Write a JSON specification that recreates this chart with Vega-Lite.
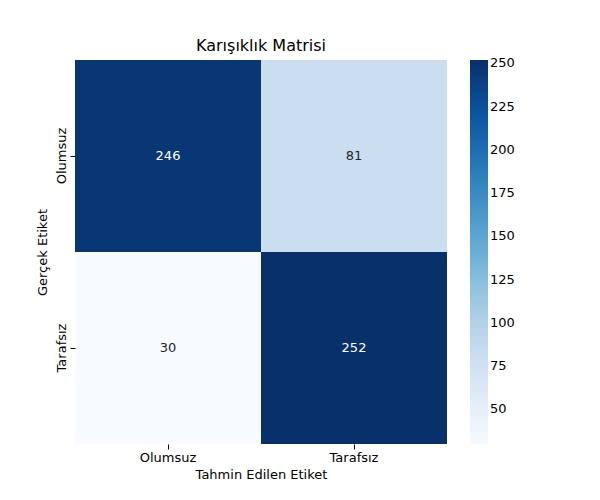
{
  "$schema": "https://vega.github.io/schema/vega-lite/v6.json",
  "width": 372,
  "height": 384,
  "autosize": "none",
  "padding": {"left": 75, "top": 60, "right": 153, "bottom": 56},
  "background": "white",
  "config": {"font": "DejaVu Sans", "view": {"stroke": null}},
  "title": {"text": "Karışıklık Matrisi", "fontSize": 16, "fontWeight": "normal", "offset": 6, "color": "black"},
  "data": {"values": [
    {"actual": "Olumsuz", "pred": "Olumsuz", "n": 246},
    {"actual": "Olumsuz", "pred": "Tarafsız", "n": 81},
    {"actual": "Tarafsız", "pred": "Olumsuz", "n": 30},
    {"actual": "Tarafsız", "pred": "Tarafsız", "n": 252}
  ]},
  "encoding": {
    "x": {"field": "pred", "type": "nominal", "title": "Tahmin Edilen Etiket",
      "scale": {"paddingInner": 0, "paddingOuter": 0},
      "axis": {"labelAngle": 0, "domain": false, "labelFontSize": 13, "titleFontSize": 13, "titleFontWeight": "normal", "labelColor": "black", "titleColor": "black", "tickColor": "black", "titlePadding": 4}},
    "y": {"field": "actual", "type": "nominal", "title": "Gerçek Etiket",
      "scale": {"paddingInner": 0, "paddingOuter": 0},
      "axis": {"labelAngle": -90, "labelAlign": "center", "labelBaseline": "bottom", "domain": false, "labelFontSize": 13, "titleFontSize": 13, "titleFontWeight": "normal", "labelColor": "black", "titleColor": "black", "tickColor": "black", "titlePadding": 6}}
  },
  "layer": [
    {
      "mark": {"type": "rect"},
      "encoding": {
        "color": {"field": "n", "type": "quantitative", "title": null,
          "scale": {"domain": [30, 252], "range": ["#f7fbff", "#deebf7", "#c6dbef", "#9ecae1", "#6baed6", "#4292c6", "#2171b5", "#08519c", "#08306b"]},
          "legend": {"gradientLength": 384, "gradientThickness": 18, "offset": 23, "values": [50, 75, 100, 125, 150, 175, 200, 225, 250], "labelFontSize": 13, "labelColor": "black", "gradientStrokeWidth": 0, "tickCount": 9}}
      }
    },
    {
      "mark": {"type": "text", "fontSize": 13},
      "encoding": {
        "text": {"field": "n", "type": "quantitative"},
        "color": {"condition": {"test": "datum.n > 150", "value": "white"}, "value": "#262626"}
      }
    }
  ]
}
